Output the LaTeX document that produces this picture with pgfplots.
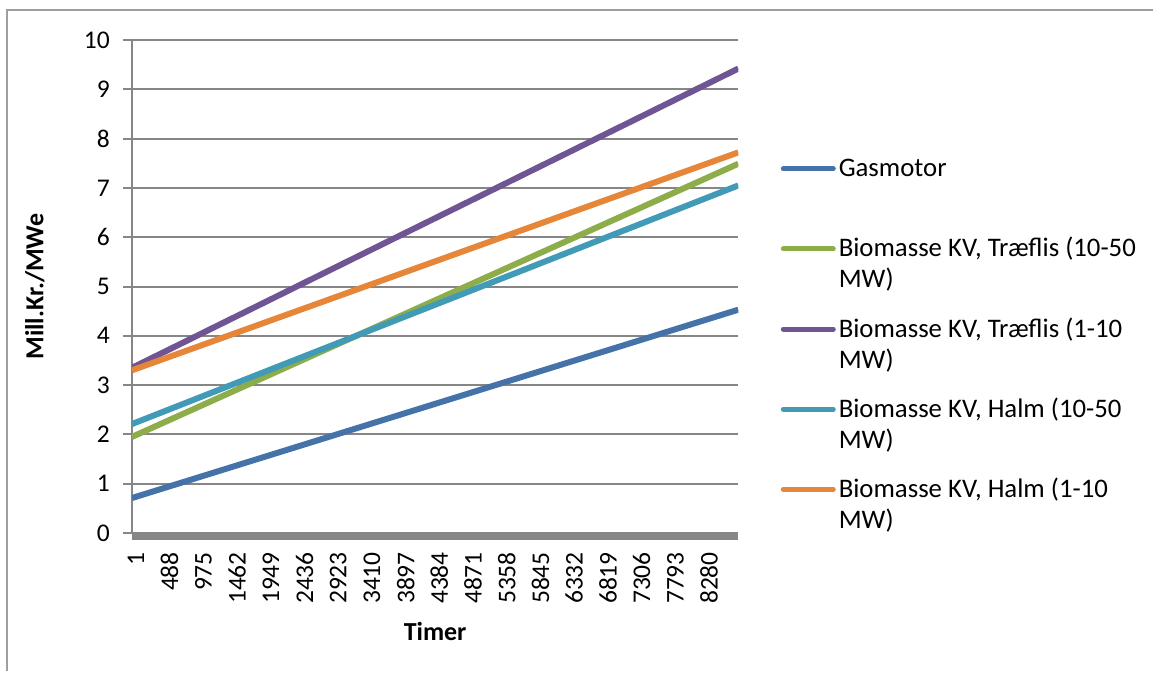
\documentclass[border=0pt]{standalone}
\usepackage{fontspec}
\setmainfont{Carlito}
\usepackage{pgfplots}
\pgfplotsset{compat=1.18}
\definecolor{cBlue}{RGB}{69,114,168}
\definecolor{cGreen}{RGB}{141,173,74}
\definecolor{cPurple}{RGB}{111,85,147}
\definecolor{cTeal}{RGB}{66,155,182}
\definecolor{cOrange}{RGB}{229,134,57}
\definecolor{cGrid}{RGB}{134,134,134}
\newcommand{\cf}{\fontsize{26}{31}\selectfont}
\newcommand{\tf}{\fontsize{25.5}{31}\selectfont}
\newcommand{\lf}{\fontsize{26.8}{31}\selectfont}
\begin{document}
\begin{tikzpicture}[x=1pt,y=1pt]
\path (0,0) rectangle (1154,672);
\draw[cGrid!80, line width=2pt] (7,0) -- (7,662) -- (1154,662);
\begin{axis}[
  at={(132pt,138.5pt)}, anchor=south west,
  scale only axis, width=607pt, height=493.5pt,
  xmin=0.5, xmax=8760.5, ymin=0, ymax=10,
  axis lines*=left,
  x axis line style={-, draw=cGrid, line width=7pt, yshift=-3pt},
  y axis line style={-, draw=cGrid, line width=2pt},
  ymajorgrids, grid style={cGrid, line width=2pt},
  ytick={0,1,...,10},
  yticklabels={0,1,2,3,4,5,6,7,8,9,10},
  tick align=outside, major tick length=9pt,
  ytick style={draw=cGrid, line width=2pt},
  xtick={1,488,975,1462,1949,2436,2923,3410,3897,4384,4871,5358,5845,6332,6819,7306,7793,8280},
  xticklabels={1,488,975,1462,1949,2436,2923,3410,3897,4384,4871,5358,5845,6332,6819,7306,7793,8280},
  xtick style={draw=none},
  yticklabel style={font=\tf, anchor=east, inner sep=0pt},
  yticklabel shift=13pt,
  xticklabel style={font=\tf, xshift=4pt, rotate=90, anchor=east, inner sep=0pt},
  xticklabel shift=10pt,
  xlabel={Timer}, ylabel={Mill.Kr./MWe},
  xlabel style={font=\cf\bfseries, at={(axis description cs:0.5,-0.1996)}, anchor=center},
  ylabel style={font=\cf\bfseries, at={(axis description cs:-0.1598,0.5)}, anchor=center, rotate=0},
  legend image code/.code={\draw[#1, line width=5pt, line cap=round] (0pt,8pt) -- (50pt,8pt);},
  legend style={draw=none, fill=none, inner sep=0pt, outer sep=0pt,
    at={(axis description cs:1.070,0.7704)}, anchor=north west,
    row sep=53pt, column sep=1pt, font=\lf,
    cells={anchor=base west, inner sep=0pt}},
  every axis plot/.append style={line width=6pt},
]
\addplot[cBlue] coordinates {(1,0.71) (8760,4.53)};
\addlegendentry{\parbox[t]{300pt}{\strut Gasmotor\\\strut}}
\addplot[cGreen] coordinates {(1,1.95) (8760,7.49)};
\addlegendentry{\parbox[t]{300pt}{\strut Biomasse KV, Træflis (10-50\\\strut MW)}}
\addplot[cPurple] coordinates {(1,3.35) (8760,9.42)};
\addlegendentry{\parbox[t]{300pt}{\strut Biomasse KV, Træflis (1-10\\\strut MW)}}
\addplot[cTeal] coordinates {(1,2.21) (8760,7.05)};
\addlegendentry{\parbox[t]{300pt}{\strut Biomasse KV, Halm (10-50\\\strut MW)}}
\addplot[cOrange] coordinates {(1,3.30) (8760,7.72)};
\addlegendentry{\parbox[t]{300pt}{\strut Biomasse KV, Halm (1-10\\\strut MW)}}
\end{axis}
\end{tikzpicture}
\end{document}
